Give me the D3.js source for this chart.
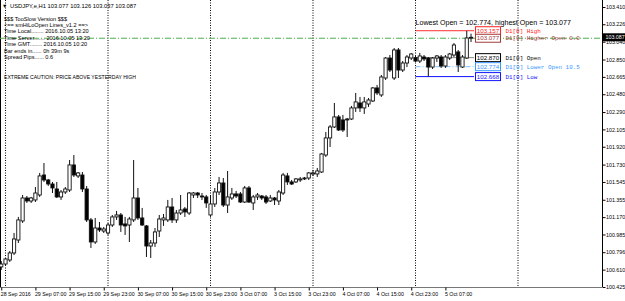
<!DOCTYPE html>
<html><head><meta charset="utf-8">
<script src="https://cdnjs.cloudflare.com/ajax/libs/d3/7.8.5/d3.min.js"></script>
<style>html,body{margin:0;padding:0;background:#fff;overflow:hidden}svg{display:block}</style>
</head><body><svg id="c" width="625" height="301"></svg>
<script>
// ---- data (USDJPY,e H1, 28 Sep 23:00 .. 5 Oct 13:00) ----
const opens = [100.639,100.670,100.713,100.788,100.926,101.129,101.374,101.342,101.353,101.406,
101.619,101.566,101.523,101.470,101.385,101.438,101.459,101.726,101.609,101.619,
101.470,101.140,100.905,101.054,101.022,101.001,101.086,101.172,101.193,101.097,
101.086,101.140,101.374,101.161,101.076,100.862,100.894,101.022,101.140,101.140,
101.278,101.140,101.214,101.257,101.214,101.406,101.427,101.395,101.385,101.193,
101.310,101.438,101.534,101.299,101.374,101.417,101.417,101.331,101.481,101.321,
101.385,101.395,101.385,101.342,101.374,101.342,101.427,101.609,101.545,101.545,
101.566,101.577,101.587,101.630,101.630,101.651,101.832,102.014,102.131,102.238,
102.206,102.206,102.216,102.334,102.387,102.334,102.376,102.408,102.547,102.472,
102.653,102.866,102.653,102.952,102.738,102.813,102.866,102.870,102.834,102.877,
102.866,102.770,102.866,102.877,102.781,102.866,102.898,102.931,102.770,102.866,
103.077];
const highs = [100.702,100.734,100.809,101.001,101.172,101.406,101.395,101.385,101.491,101.641,
101.747,101.577,101.545,101.545,101.459,101.491,101.779,101.832,101.651,101.651,
101.502,101.161,101.161,101.118,101.065,101.108,101.193,101.236,101.214,101.172,
101.172,101.779,101.481,101.268,101.086,100.926,101.054,101.193,101.204,101.353,
101.374,101.246,101.406,101.278,101.438,101.438,101.438,101.427,101.406,101.395,
101.481,101.598,101.587,101.662,101.481,101.449,101.438,101.502,101.502,101.406,
101.427,101.406,101.406,101.406,101.385,101.459,101.641,101.641,101.566,101.587,
101.598,101.598,101.651,101.673,101.694,101.854,102.078,102.152,102.387,102.259,
102.259,102.227,102.355,102.494,102.451,102.451,102.440,102.557,102.579,102.685,
102.877,102.898,102.973,102.973,102.834,102.898,102.920,102.898,102.920,102.898,
102.877,102.877,102.898,102.898,102.898,102.920,103.026,102.952,102.898,103.157,
103.126];
const lows = [100.607,100.649,100.692,100.766,100.894,101.108,101.321,101.321,101.331,101.385,
101.545,101.502,101.427,101.374,101.353,101.417,101.438,101.598,101.587,101.438,
101.118,100.841,100.884,101.012,101.001,100.980,101.065,101.140,101.012,100.980,
100.905,101.118,101.140,101.076,100.745,100.734,100.852,100.958,101.076,101.118,
101.108,101.108,101.193,101.172,101.193,101.374,101.374,101.353,101.268,101.172,
101.278,101.406,101.278,101.214,101.353,101.374,101.321,101.321,101.321,101.246,
101.353,101.353,101.310,101.331,101.299,101.299,101.406,101.513,101.513,101.534,
101.545,101.566,101.566,101.609,101.598,101.641,101.811,101.918,102.120,102.088,
102.078,102.024,102.206,102.291,102.291,102.270,102.344,102.398,102.472,102.451,
102.632,102.717,102.632,102.653,102.717,102.770,102.845,102.824,102.813,102.834,
102.668,102.749,102.824,102.760,102.760,102.845,102.877,102.717,102.760,102.856,
103.037];
const closes = [100.670,100.724,100.788,100.937,101.140,101.374,101.342,101.374,101.427,101.609,
101.566,101.523,101.481,101.385,101.438,101.470,101.726,101.619,101.641,101.470,
101.140,100.905,101.054,101.033,101.044,101.086,101.172,101.193,101.086,101.076,
101.150,101.374,101.161,101.086,100.862,100.894,101.012,101.150,101.161,101.278,
101.140,101.214,101.246,101.225,101.427,101.427,101.406,101.385,101.321,101.310,
101.438,101.534,101.299,101.385,101.417,101.395,101.331,101.481,101.331,101.385,
101.406,101.374,101.331,101.374,101.353,101.438,101.619,101.545,101.523,101.577,
101.577,101.587,101.641,101.641,101.662,101.843,102.014,102.131,102.238,102.099,
102.099,102.216,102.334,102.398,102.334,102.398,102.419,102.547,102.494,102.664,
102.866,102.738,102.952,102.738,102.813,102.877,102.909,102.834,102.888,102.856,
102.770,102.866,102.888,102.781,102.877,102.909,103.005,102.792,102.877,103.080,
103.087];
const timeLabels = ["28 Sep 2016","29 Sep 07:00","29 Sep 15:00","29 Sep 23:00","30 Sep 07:00","30 Sep 15:00","30 Sep 23:00","3 Oct 07:00","3 Oct 15:00","3 Oct 23:00","4 Oct 07:00","4 Oct 15:00","4 Oct 23:00","5 Oct 07:00"];
const timeLabelIdx = [0,8,16,24,32,40,48,56,64,72,80,88,96,104];
const daySeparatorIdx = [1,25,49,73,97,121];
const priceTicks = [103.410,103.226,103.040,102.850,102.665,102.480,102.290,102.105,101.920,101.730,101.545,101.355,101.170,100.985,100.796,100.610,100.425];
const bidPrice = 103.087;
const levelNames = ["D1[0] High","D1[0] Higher Open 0.0","D1[0] Open","D1[0] Lower Open 10.5","D1[0] Low"];
const levelValues = [103.157,103.077,102.870,102.774,102.668];
const levelTextColors = ["#ff2020","#a03c3c","#000000","#3a98ff","#1414ff"];
const levelLineColors = ["#ff3030","#4caf50","#8a8a8a","#7fbfff","#1010ff"];
const levelDash = [null,"6,2,1,2",null,"5,2,1,2",null];
const headerText = "USDJPY,e,H1  103.077 103.126 103.037 103.087";
const infoLines = ["$$$ TooSlow Version $$$","<== smHiLoOpen Lines_v1.2 ==>","Time Local........ 2016.10.05 13:20","Time Server....... 2016.10.05 13:20","Time GMT........ 2016.10.05 10:20","Bar ends in...... 0h 39m 9s","Spread Pips...... 0.6"];
const cautionText = "EXTREME CAUTION: PRICE ABOVE YESTERDAY HIGH";
const rangeText = "Lowest Open = 102.774, highest Open = 103.077";

// ---- layout ----
const W = 625, H = 301, plotR = 602, plotB = 287;
const svg = d3.select("#c");
const x = d3.scaleLinear().domain([0, 121]).range([1.25, 518]);
const y = d3.scaleLinear().domain([100.425, 103.410]).range([287, 7]);
const font = "'Liberation Sans', Arial, sans-serif";
const mono = "'Liberation Mono', 'Courier New', monospace";

// frame
svg.append("line").attr("x1",0.5).attr("x2",0.5).attr("y1",0).attr("y2",plotB).attr("stroke","#000");
svg.append("line").attr("x1",0).attr("x2",plotR).attr("y1",plotB+0.5).attr("y2",plotB+0.5).attr("stroke","#777");

// day separators
svg.append("g").selectAll("line").data(daySeparatorIdx).join("line")
  .attr("x1",d=>x(d)).attr("x2",d=>x(d)).attr("y1",0).attr("y2",plotB)
  .attr("stroke","#000").attr("stroke-dasharray","1,1.5").attr("stroke-width",1);

// level lines
const lastIdx = closes.length - 1;
const dayStart = daySeparatorIdx[4];
levelValues.forEach((v,i)=>{
  const full = i===1;
  svg.append("line").attr("x1", full?0:x(dayStart)).attr("x2", full?plotR:x(lastIdx)+3)
    .attr("y1", y(v)).attr("y2", y(v)).attr("stroke", levelLineColors[i]).attr("stroke-width",1)
    .attr("stroke-dasharray", levelDash[i]);
});

// candles
const bars = d3.range(closes.length).map(i=>({i,o:opens[i],h:highs[i],l:lows[i],c:closes[i]}));
const g = svg.append("g");
g.selectAll("line.w").data(bars).join("line").attr("class","w")
  .attr("x1",d=>x(d.i)).attr("x2",d=>x(d.i)).attr("y1",d=>y(d.h)).attr("y2",d=>y(d.l))
  .attr("stroke","#111").attr("stroke-width",1);
g.selectAll("rect").data(bars).join("rect")
  .attr("x",d=>x(d.i)-1.6).attr("width",3.2)
  .attr("y",d=>y(Math.max(d.o,d.c))).attr("height",d=>Math.max(0.8,Math.abs(y(d.o)-y(d.c))))
  .attr("fill",d=>d.c>=d.o?"#fff":"#000").attr("stroke","#111").attr("stroke-width",0.9);

// level labels
levelValues.forEach((v,i)=>{
  const bx = x(lastIdx)+4.5, by = y(v);
  svg.append("rect").attr("x",bx).attr("y",by-4).attr("width",25).attr("height",8)
    .attr("fill","#fff").attr("stroke",levelTextColors[i]).attr("stroke-width",1);
  svg.append("text").attr("x",bx+12.5).attr("y",by+2.2).attr("text-anchor","middle")
    .attr("font-family",font).attr("font-size",6.2).attr("fill",levelTextColors[i]).text(d3.format(".3f")(v));
  svg.append("text").attr("x",bx+30).attr("y",by+2.2).attr("font-family",mono)
    .attr("font-size",5.9).attr("fill",levelTextColors[i]).text(levelNames[i]);
});

// range text
svg.append("text").attr("x",x(dayStart)).attr("y",25).attr("font-family",font).attr("font-size",7.1)
  .attr("fill","#000").text(rangeText);

// price axis
const ya = d3.axisRight(y).tickValues(priceTicks).tickSize(3).tickFormat(d3.format(".3f"));
const yg = svg.append("g").attr("transform",`translate(${plotR+0.5},0)`).call(ya);
yg.select(".domain").attr("stroke","#000").attr("d",`M0,0V${plotB}`);
yg.selectAll("text").attr("font-family",font).attr("font-size",5.3).attr("fill","#000").attr("x",3.5);
// bid box
svg.append("rect").attr("x",plotR+1).attr("y",y(bidPrice)-4).attr("width",W-plotR).attr("height",8).attr("fill","#000");
svg.append("text").attr("x",plotR+3.5).attr("y",y(bidPrice)+2).attr("font-family",font).attr("font-size",5.3)
  .attr("fill","#fff").text(d3.format(".3f")(bidPrice));

// time axis
const xa = d3.axisBottom(x).tickValues(timeLabelIdx).tickSize(3).tickFormat((d,k)=>timeLabels[k]);
const xg = svg.append("g").attr("transform",`translate(0,${plotB+0.5})`).call(xa);
xg.select(".domain").remove();
xg.selectAll("text").attr("font-family",font).attr("font-size",5.3).attr("fill","#000")
  .attr("text-anchor","start").attr("dx",-1).attr("y",5);

// header & info
svg.append("text").attr("x",2).attr("y",7.5).attr("font-family",font).attr("font-size",5.5).text("▼");
svg.append("text").attr("x",10).attr("y",7.6).attr("font-family",font).attr("font-size",5.8).text(headerText);
const infoY = [21,27,33,39.5,45.5,52.5,59];
infoLines.forEach((t,k)=>svg.append("text").attr("x",4).attr("y",infoY[k]).attr("font-family",font)
  .attr("font-size",5.6).attr("fill","#000").text(t));
svg.append("text").attr("x",4).attr("y",79).attr("font-family",font).attr("font-size",5.1).text(cautionText);
</script></body></html>
